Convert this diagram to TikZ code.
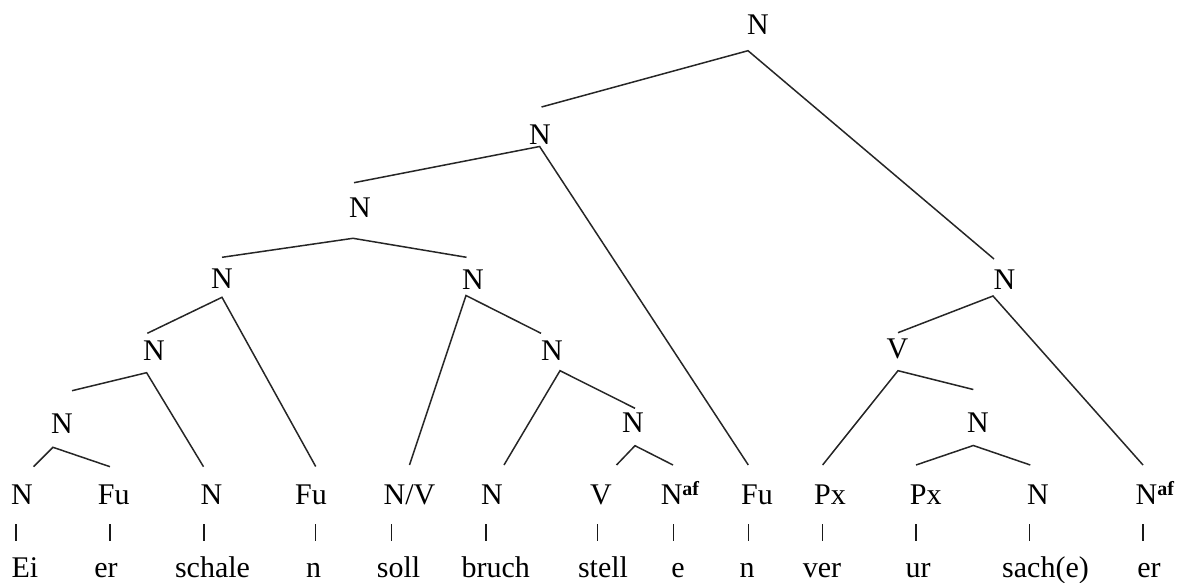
\documentclass[tikz,border=0pt]{standalone}
\usepackage{fontspec}
\setmainfont{Liberation Serif}
\begin{document}
\begin{tikzpicture}[x=1pt,y=-1pt,
  lbl/.style={inner sep=0pt, anchor=base, font=\fontsize{30}{36}\selectfont},
  lblw/.style={lbl, anchor=base west},
  edge/.style={line width=1.5pt, draw=black!85},
  tick/.style={line width=1.5pt, draw=black!90}]
\useasboundingbox (0,0) rectangle (1188,583);
\newcommand{\af}{\raisebox{9pt}{\fontsize{20}{20}\selectfont\bfseries af}}
% inner labels
\node[lbl] (root) at (758,35) {N};
\node[lbl] (n2) at (540,144) {N};
\node[lbl] (n3) at (360,217) {N};
\node[lbl] (n4) at (222,288) {N};
\node[lbl] (n5) at (473,289) {N};
\node[lbl] (n6) at (154,360) {N};
\node[lbl] (n7) at (62,433) {N};
\node[lbl] (nb) at (552,360) {N};
\node[lbl] (ns) at (633,432) {N};
\node[lbl] (nr) at (1004.5,289) {N};
\node[lbl] (vv) at (897.5,358) {V};
\node[lbl] (nu) at (978,432) {N};
% leaf labels
\node[lbl] (l1) at (22,504) {N};
\node[lbl] (l2) at (113.8,504) {Fu};
\node[lbl] (l3) at (211.5,504) {N};
\node[lbl] (l4) at (311,504) {Fu};
\node[lbl] (l5) at (409.5,504) {N/V};
\node[lbl] (l6) at (492,504) {N};
\node[lbl] (l7) at (601,504) {V};
\node[lblw] (l8) at (660.6,504) {N\af};
\node[lbl] (l9) at (757,504) {Fu};
\node[lbl] (l10) at (830,504) {Px};
\node[lbl] (l11) at (925.7,504) {Px};
\node[lbl] (l12) at (1038,504) {N};
\node[lblw] (l13) at (1135.4,504) {N\af};
% words
\node[lbl] (w1) at (25,577) {Ei};
\node[lbl] (w2) at (106,577) {er};
\node[lbl] (w3) at (212.5,577) {schale};
\node[lbl] (w4) at (313.5,577) {n};
\node[lbl] (w5) at (398.5,577) {soll};
\node[lbl] (w6) at (495.8,577) {bruch};
\node[lbl] (w7) at (603,577) {stell};
\node[lbl] (w8) at (678,577) {e};
\node[lbl] (w9) at (747,577) {n};
\node[lbl] (w10) at (822,577) {ver};
\node[lbl] (w11) at (918,577) {ur};
\node[lbl] (w12) at (1045.5,577) {sach(e)};
\node[lbl] (w13) at (1149,577) {er};
% branch points (apex under each parent)
\coordinate (root-a) at (748,50.7);
\coordinate (n2-a) at (539.6,146.5);
\coordinate (n3-a) at (353,238.3);
\coordinate (n4-a) at (222,297.3);
\coordinate (n5-a) at (466,295.5);
\coordinate (n6-a) at (146.6,372.7);
\coordinate (n7-a) at (53,447.3);
\coordinate (nb-a) at (560,370.7);
\coordinate (ns-a) at (635,445.7);
\coordinate (nr-a) at (993,296);
\coordinate (vv-a) at (898,370.7);
\coordinate (nu-a) at (973.3,445.5);
% upper ends (above each child)
\coordinate (n2-t) at (541.5,107);
\coordinate (nr-t) at (994,259);
\coordinate (n3-t) at (354,182.7);
\coordinate (l9-t) at (748.3,465);
\coordinate (n4-t) at (222,257.3);
\coordinate (n5-t) at (466.5,257.3);
\coordinate (n6-t) at (147.3,333.3);
\coordinate (l4-t) at (315.7,466.5);
\coordinate (l5-t) at (409.5,465);
\coordinate (nb-t) at (541,333.3);
\coordinate (n7-t) at (72,390.7);
\coordinate (l3-t) at (203.5,466.7);
\coordinate (l1-t) at (33.5,466.7);
\coordinate (l2-t) at (110,466.7);
\coordinate (l6-t) at (504,465);
\coordinate (ns-t) at (635,408.3);
\coordinate (l7-t) at (616.5,465);
\coordinate (l8-t) at (673,465);
\coordinate (vv-t) at (898,332.7);
\coordinate (l13-t) at (1143,465);
\coordinate (l10-t) at (822.6,465);
\coordinate (nu-t) at (973.3,389.5);
\coordinate (l11-t) at (916,465);
\coordinate (l12-t) at (1030.3,465);
% branches
\draw[edge] (n2-t) -- (root-a) -- (nr-t);
\draw[edge] (n3-t) -- (n2-a) -- (l9-t);
\draw[edge] (n4-t) -- (n3-a) -- (n5-t);
\draw[edge] (n6-t) -- (n4-a) -- (l4-t);
\draw[edge] (l5-t) -- (n5-a) -- (nb-t);
\draw[edge] (n7-t) -- (n6-a) -- (l3-t);
\draw[edge] (l1-t) -- (n7-a) -- (l2-t);
\draw[edge] (l6-t) -- (nb-a) -- (ns-t);
\draw[edge] (l7-t) -- (ns-a) -- (l8-t);
\draw[edge] (vv-t) -- (nr-a) -- (l13-t);
\draw[edge] (l10-t) -- (vv-a) -- (nu-t);
\draw[edge] (l11-t) -- (nu-a) -- (l12-t);
% ticks between leaf labels and words
\foreach \i/\x in {1/16,2/110,3/204,4/315.7,5/391.5,6/486,7/597.5,8/673.7,9/748.3,10/822.6,11/916,12/1029.4,13/1143}{
  \coordinate (t\i-u) at (\x,524);
  \coordinate (t\i-d) at (\x,541);
  \draw[tick] (t\i-u) -- (t\i-d);
}
\end{tikzpicture}
\end{document}
